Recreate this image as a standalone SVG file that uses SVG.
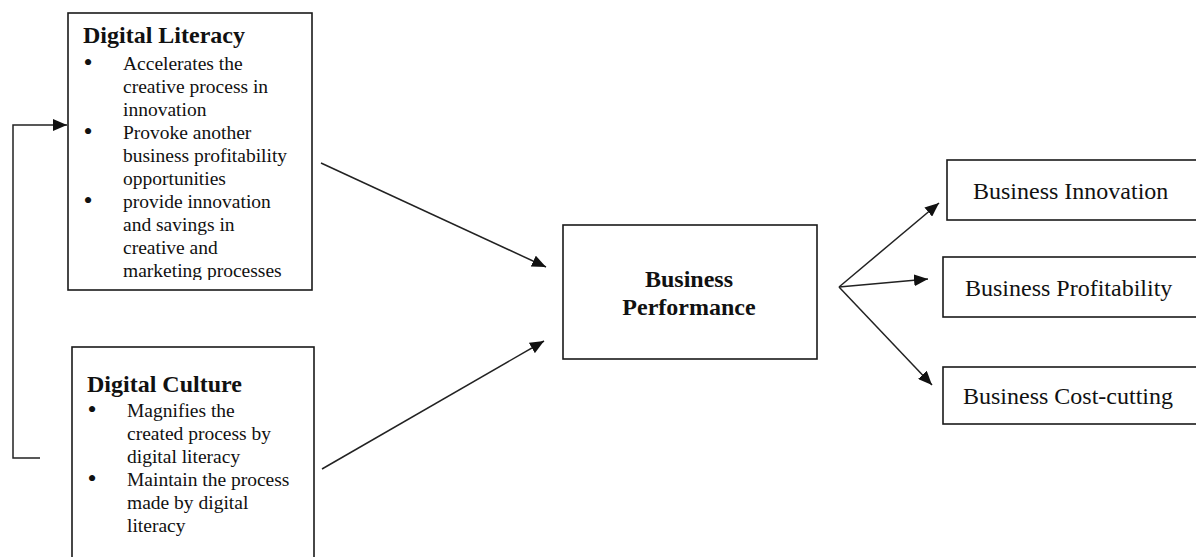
<svg xmlns="http://www.w3.org/2000/svg" width="1196" height="557" viewBox="0 0 1196 557">
<style>
.box{fill:#fff;stroke:#1a1a1a;stroke-width:1.6}
.t{font-family:"Liberation Serif","Times New Roman",serif;fill:#111}
.title{font-size:24px;font-weight:bold}
.body{font-size:19.5px}
.lbl{font-size:24px}
.bul{text-anchor:middle;font-size:26px}
.con{fill:none;stroke:#222;stroke-width:1.5}
</style>
<defs>
<marker id="ah" markerUnits="userSpaceOnUse" markerWidth="14" markerHeight="12" refX="14" refY="6" orient="auto">
<path d="M0,0 L14,6 L0,12 Z" fill="#111"/>
</marker>
<clipPath id="dlclip"><rect x="68" y="13" width="244" height="267"/></clipPath>
</defs>
<rect width="1196" height="557" fill="#fff"/>

<g id="connectors">
<path class="con" d="M40,458 H13 V125 H67" marker-end="url(#ah)"/>
<line class="con" x1="321" y1="163" x2="546" y2="267" marker-end="url(#ah)"/>
<line class="con" x1="322" y1="469" x2="544" y2="341" marker-end="url(#ah)"/>
<line class="con" x1="839" y1="287" x2="939" y2="203" marker-end="url(#ah)"/>
<line class="con" x1="839" y1="287" x2="928" y2="279" marker-end="url(#ah)"/>
<line class="con" x1="839" y1="287" x2="932" y2="385" marker-end="url(#ah)"/>
</g>

<g id="digital-literacy">
<rect class="box" x="68" y="13" width="244" height="277"/>
<text class="t title" x="83" y="43">Digital Literacy</text>
<g clip-path="url(#dlclip)">
<text class="t bul" x="88" y="71">•</text>
<text class="t body" x="123" y="70">Accelerates the</text>
<text class="t body" x="123" y="93">creative process in</text>
<text class="t body" x="123" y="116">innovation</text>
<text class="t bul" x="88" y="140">•</text>
<text class="t body" x="123" y="139">Provoke another</text>
<text class="t body" x="123" y="162">business profitability</text>
<text class="t body" x="123" y="185">opportunities</text>
<text class="t bul" x="88" y="209">•</text>
<text class="t body" x="123" y="208">provide innovation</text>
<text class="t body" x="123" y="231">and savings in</text>
<text class="t body" x="123" y="254">creative and</text>
<text class="t body" x="123" y="277">marketing processes</text>
</g>
</g>

<g id="digital-culture">
<rect class="box" x="72" y="347" width="242" height="230"/>
<text class="t title" x="87" y="392">Digital Culture</text>
<text class="t bul" x="92" y="418">•</text>
<text class="t body" x="127" y="417">Magnifies the</text>
<text class="t body" x="127" y="440">created process by</text>
<text class="t body" x="127" y="463">digital literacy</text>
<text class="t bul" x="92" y="487">•</text>
<text class="t body" x="127" y="486">Maintain the process</text>
<text class="t body" x="127" y="509">made by digital</text>
<text class="t body" x="127" y="532">literacy</text>
</g>

<g id="business-performance">
<rect class="box" x="563" y="225" width="254" height="134"/>
<text class="t title" x="689" y="287" text-anchor="middle">Business</text>
<text class="t title" x="689" y="315" text-anchor="middle">Performance</text>
</g>

<g id="business-innovation">
<rect class="box" x="947" y="160" width="270" height="60"/>
<text class="t lbl" x="973" y="199">Business Innovation</text>
</g>

<g id="business-profitability">
<rect class="box" x="943" y="257" width="270" height="60"/>
<text class="t lbl" x="965" y="296">Business Profitability</text>
</g>

<g id="business-cost-cutting">
<rect class="box" x="943" y="367" width="270" height="57"/>
<text class="t lbl" x="963" y="404">Business Cost-cutting</text>
</g>
</svg>
